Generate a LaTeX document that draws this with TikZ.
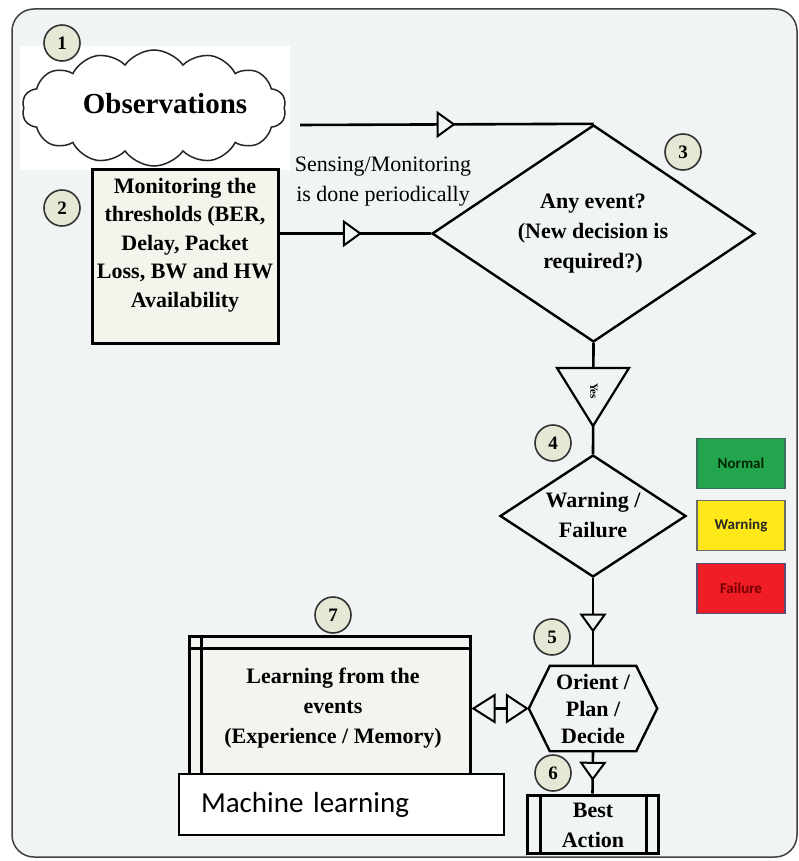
\documentclass[tikz,border=0pt]{standalone}
\usepackage{fontspec}
\setmainfont{Liberation Serif}
\newfontfamily\calfont{Carlito}
\usetikzlibrary{arrows.meta,shapes.symbols,shapes.geometric,decorations.markings}
\definecolor{bgc}{HTML}{F1F4F4}
\definecolor{boxfill}{HTML}{F4F4EC}
\definecolor{numfill}{HTML}{E4E8D4}
\definecolor{normfill}{HTML}{22A54C}
\definecolor{normdraw}{HTML}{3C6E5C}
\definecolor{warnfill}{HTML}{FFE81A}
\definecolor{warndraw}{HTML}{6C6C66}
\definecolor{failfill}{HTML}{EE1D26}
\definecolor{faildraw}{HTML}{5C4C7A}
\begin{document}
\begin{tikzpicture}[x=1pt,y=-1pt,
  numc/.style={circle, draw=black!80, line width=1.6pt, fill=numfill, minimum size=36pt, inner sep=0pt, font=\bfseries\fontsize{19}{19}\selectfont},
  txt/.style={align=center, font=\bfseries\fontsize{22}{29}\selectfont},
  conn/.style={line width=2.6pt},
  shapeline/.style={line width=2.4pt},
  midarrow/.style={postaction={decorate, decoration={markings, mark=at position #1 with {\arrow{Triangle[length=19pt,width=27pt,fill=bgc,line width=2pt]}}}}},
  legend/.style={line width=1.6pt, minimum width=88pt, minimum height=50pt, inner sep=0pt, font=\calfont\bfseries\fontsize{15}{15}\selectfont}
]
\useasboundingbox (0,0) rectangle (798,861);
\fill[white] (0,0) rectangle (798,861);
% frame
\draw[line width=1.5pt, draw=black!75, fill=bgc, rounded corners=22pt] (12,9) rectangle (797,857);
\fill[white] (20,46) rectangle (290,170);

% 1 observations
\node[cloud, cloud puffs=14, cloud puff arc=110, cloud ignores aspect, draw=black!85, line width=1.5pt, fill=white,
      minimum width=264pt, minimum height=116pt, inner sep=0pt] (obs) at (154,108) {};
\node[font=\bfseries\fontsize{29}{29}\selectfont] (obstxt) at (165,104) {Observations};
\node[numc] (n1) at (62,43) {1};

% 2 monitoring box
\node[draw, line width=3pt, fill=boxfill, minimum width=186pt, minimum height=173pt, inner sep=0pt] (mon) at (185,256.5) {};
\node[txt, font=\bfseries\fontsize{22}{28.5}\selectfont] (montxt) at (185,245) {Monitoring the\\thresholds (BER,\\Delay, Packet\\Loss, BW and HW\\Availability};
\node[numc] (n2) at (62,208) {2};

% sensing text
\node[align=center, font=\fontsize{22}{30}\selectfont] (sense) at (383,182) {Sensing/Monitoring\\is done periodically};

% 3 diamond
\node[diamond, draw, shapeline, fill=bgc, aspect=1.5, inner sep=0pt, minimum width=323pt, minimum height=217pt] (d3) at (593.5,233.5) {};
\node[txt, font=\bfseries\fontsize{22}{30}\selectfont] (d3txt) at (593,234) {Any event?\\(New decision is\\required?)};
\node[numc] (n3) at (683,152) {3};

% 4 diamond
\node[diamond, draw, shapeline, fill=bgc, aspect=1.5, inner sep=0pt, minimum width=186pt, minimum height=122pt] (warn) at (593,516) {};
\node[txt, font=\bfseries\fontsize{22}{30}\selectfont] (warntxt) at (593,515) {Warning /\\Failure};
\node[numc] (n4) at (553,443) {4};

% legend
\node[legend, fill=normfill, draw=normdraw, text=black!85!green] (lnorm) at (741,463.5) {Normal};
\node[legend, fill=warnfill, draw=warndraw, text=black!85] (lwarn) at (741,525.5) {Warning};
\node[legend, fill=failfill, draw=faildraw, text=black!55!red] (lfail) at (741,588.5) {Failure};

% 5 hexagon
\node[inner sep=0pt, minimum width=86pt, minimum height=85pt] (hex) at (593,708.5) {};
\coordinate (hexL) at ([xshift=-21pt]hex.west);
\coordinate (hexR) at ([xshift=21pt]hex.east);
\draw[shapeline, fill=bgc] (hex.north west) -- (hex.north east) -- (hexR) -- (hex.south east) -- (hex.south west) -- (hexL) -- cycle;
\node[inner sep=0pt, align=center, font=\bfseries\fontsize{22}{27}\selectfont] (hextxt) at (hex.center) {Orient /\\Plan /\\Decide};
\node[numc] (n5) at (552,637) {5};

% 6 best action
\node[draw, line width=3pt, fill=bgc, minimum width=131pt, minimum height=58pt, inner sep=0pt] (best) at (592.5,824) {};
\draw[line width=2.6pt] ([xshift=15pt]best.north west) -- ([xshift=15pt]best.south west);
\draw[line width=2.6pt] ([xshift=-13pt]best.north east) -- ([xshift=-13pt]best.south east);
\node[txt, font=\bfseries\fontsize{22}{30}\selectfont] (besttxt) at (593,825) {Best\\Action};
\node[numc] (n6) at (553,773) {6};

% 7 learning
\node[draw, line width=3pt, fill=boxfill!60!bgc, minimum width=281pt, minimum height=164pt, inner sep=0pt] (learn) at (329.5,718) {};
\draw[line width=2.6pt] ([yshift=-14pt]learn.north west) -- ([yshift=-14pt]learn.north east);
\draw[line width=2.6pt] ([xshift=14pt]learn.north west) -- ([xshift=14pt]learn.south west);
\node[txt, font=\bfseries\fontsize{22}{30}\selectfont] (learntxt) at (333,708) {Learning from the\\events\\(Experience / Memory)};
\node[numc] (n7) at (333,615) {7};

% machine learning
\node[draw=black, line width=1.2pt, fill=white, minimum height=61pt, inner xsep=22pt, text width=281pt, align=left, font=\calfont\fontsize{29}{29}\selectfont] (ml) at (341.5,804.5) {Machine learning};

% connectors
\coordinate (obsout) at (300,125);
\draw[conn, midarrow=0.53] (obsout) -- (d3.north);
\draw[conn, midarrow=0.545] (d3.west -| mon.east) -- (d3.west);
\draw[conn] (d3.south) -- (warn.north);
\coordinate (yesc) at (593,368);
\draw[line width=2.2pt, fill=bgc] ([xshift=-36pt]yesc) -- ([xshift=36pt]yesc) -- ([yshift=-58pt]yesc) -- cycle;
\node[rotate=-90, font=\bfseries\fontsize{11}{11}\selectfont] (yes) at (594,391) {Yes};
\draw[conn, midarrow=0.62] (warn.south) -- (hex.north);
\draw[conn, midarrow=0.70] (hex.south) -- (best.north);
\draw[conn, {Triangle[length=24pt,width=30pt,fill=bgc,line width=2pt]}-{Triangle[length=23pt,width=30pt,fill=bgc,line width=2pt]}] (hexL -| learn.east) -- (hexL);
\end{tikzpicture}
\end{document}
